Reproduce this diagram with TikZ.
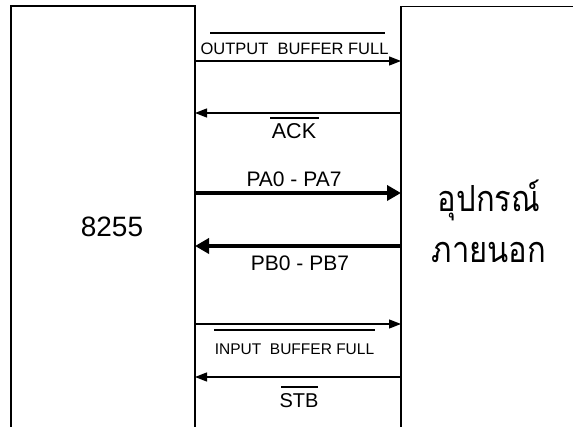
\documentclass[tikz,border=0pt]{standalone}
\usepackage{fontspec}
\setmainfont{Liberation Sans}
\newfontfamily\thaifont[Script=Thai]{Loma}
\usetikzlibrary{arrows.meta}
\begin{document}
\begin{tikzpicture}[x=1pt,y=-1pt,
  boxline/.style={line width=1.4pt},
  thin/.style={line width=1.3pt,-{Triangle[length=12pt,width=9pt]}},
  thick/.style={line width=4pt,-{Triangle[length=14pt,width=15pt]}},
  lbl/.style={inner sep=0pt,anchor=base},
  thai/.style={inner sep=0pt,anchor=base,xscale=0.86,font=\thaifont\fontsize{36}{40}\selectfont},
  ovl/.style={line width=1.2pt}]
\useasboundingbox (0,0) rectangle (573,427);
% boxes
\draw[boxline] (11,430) -- (11,6) -- (195,6) -- (195,430);
\draw[boxline] (401,430) -- (401,6.5) -- (580,6.5);
\node (chip) at (112,227) {\fontsize{28}{30}\selectfont 8255};
\node[thai] (dev1) at (489,212) {อุปกรณ์};
\node[thai] (dev2) at (489,263) {ภายนอก};
% endpoints
\coordinate (L1) at (195,61);  \coordinate (R1) at (401,61);
\coordinate (L2) at (195,113); \coordinate (R2) at (401,113);
\coordinate (L3) at (195,193); \coordinate (R3) at (401,193);
\coordinate (L4) at (195,246); \coordinate (R4) at (401,246);
\coordinate (L5) at (195,324); \coordinate (R5) at (401,324);
\coordinate (L6) at (195,377); \coordinate (R6) at (401,377);
\draw[thin] (L1) -- (R1);
\draw[thin] (R2) -- (L2);
\draw[thick] (L3) -- (R3);
\draw[thick] (R4) -- (L4);
\draw[thin] (L5) -- (R5);
\draw[thin] (R6) -- (L6);
% labels
\node[lbl] (t1) at (294.5,55) {\fontsize{16.5}{18}\selectfont OUTPUT\ \ BUFFER FULL};
\draw[ovl] (210,33) -- (385,33);
\node[lbl] (t2) at (294,139) {\fontsize{21.5}{24}\selectfont ACK};
\draw[ovl] (270,118) -- (319,118);
\node[lbl] (t3) at (294,187) {\fontsize{21}{24}\selectfont PA0 - PA7};
\node[lbl] (t4) at (300,271) {\fontsize{21}{24}\selectfont PB0 - PB7};
\node[lbl] (t5) at (294.5,355) {\fontsize{15.5}{18}\selectfont INPUT\ \ BUFFER FULL};
\draw[ovl] (214,330) -- (375,330);
\node[lbl] (t6) at (299,408) {\fontsize{20}{22}\selectfont STB};
\draw[ovl] (281,387) -- (318,387);
\end{tikzpicture}
\end{document}
